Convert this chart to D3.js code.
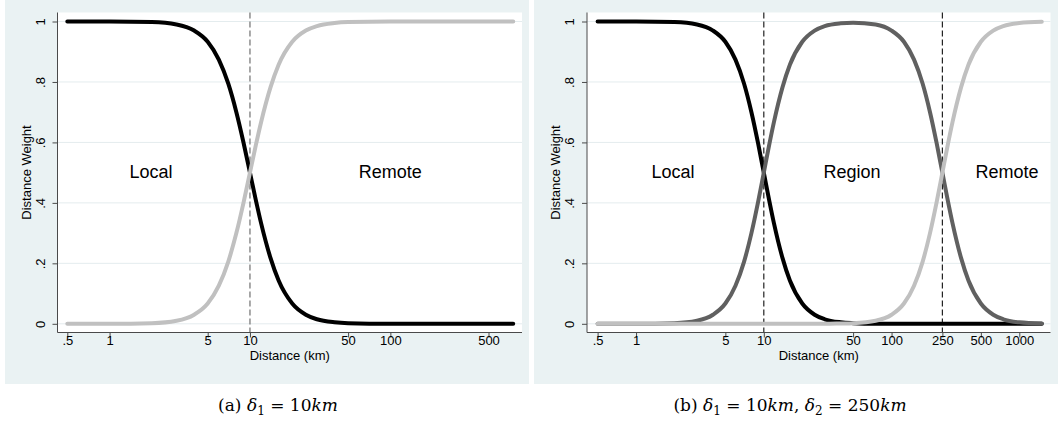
<!DOCTYPE html>
<html>
<head>
<meta charset="utf-8">
<script src="https://cdn.jsdelivr.net/npm/d3@7"></script>
<style>
  body { margin: 0; background: #fff; }
  text { font-family: "Liberation Sans", Arial, sans-serif; }
  .cap { font-family: "DejaVu Serif", "Liberation Serif", serif; }
</style>
</head>
<body>
<svg id="chart" width="1058" height="424"></svg>
<script>
// ---- data ----
const yTicks = [0, 0.2, 0.4, 0.6, 0.8, 1];
const yTickLabels = ["0", ".2", ".4", ".6", ".8", "1"];

const xTicksA = [0.5, 1, 5, 10, 50, 100, 500];
const xTickLabelsA = [".5", "1", "5", "10", "50", "100", "500"];
const xTicksB = [0.5, 1, 5, 10, 50, 100, 250, 500, 1000];
const xTickLabelsB = [".5", "1", "5", "10", "50", "100", "250", "500", "1000"];

// panel (a): one cut-off at 10 km
const distA   = [0.5, 1, 2, 3, 4, 5, 6, 7, 8, 9, 10, 11, 12, 14, 16, 20, 25, 30, 40, 50, 100, 200, 500, 750];
const localA  = [1.000, 1.000, 0.998, 0.990, 0.970, 0.933, 0.874, 0.795, 0.700, 0.599, 0.500, 0.410, 0.333, 0.218, 0.143, 0.067, 0.030, 0.015, 0.005, 0.002, 0.000, 0.000, 0.000, 0.000];
const remoteA = [0.000, 0.000, 0.002, 0.010, 0.030, 0.067, 0.126, 0.205, 0.300, 0.401, 0.500, 0.590, 0.667, 0.782, 0.857, 0.933, 0.970, 0.985, 0.995, 0.998, 1.000, 1.000, 1.000, 1.000];
const cutsA = [10];
const zoneLabelsA = ["Local", "Remote"];
const zoneDistA = [1.97, 100];

// panel (b): cut-offs at 10 km and 250 km
const distB   = [0.5, 1, 2, 3, 4, 5, 6, 7, 8, 9, 10, 11, 12, 14, 16, 20, 25, 30, 40, 50, 75, 100, 125, 150, 175, 200, 225, 250, 275, 300, 350, 400, 500, 625, 750, 1000, 1500];
const localB  = [1.000, 1.000, 0.998, 0.990, 0.970, 0.933, 0.874, 0.795, 0.700, 0.599, 0.500, 0.410, 0.333, 0.218, 0.143, 0.067, 0.030, 0.015, 0.005, 0.002, 0, 0, 0, 0, 0, 0, 0, 0, 0, 0, 0, 0, 0, 0, 0, 0, 0];
const regionB = [0.000, 0.000, 0.002, 0.010, 0.030, 0.067, 0.126, 0.205, 0.300, 0.401, 0.500, 0.590, 0.667, 0.782, 0.857, 0.933, 0.970, 0.985, 0.994, 0.996, 0.990, 0.970, 0.933, 0.874, 0.795, 0.700, 0.599, 0.500, 0.410, 0.333, 0.218, 0.143, 0.067, 0.030, 0.015, 0.005, 0.001];
const remoteB = [0, 0, 0, 0, 0, 0, 0, 0, 0, 0, 0, 0, 0, 0, 0, 0, 0, 0.000, 0.001, 0.002, 0.010, 0.030, 0.067, 0.126, 0.205, 0.300, 0.401, 0.500, 0.590, 0.667, 0.782, 0.857, 0.933, 0.970, 0.985, 0.995, 0.999];
const cutsB = [10, 250];
const zoneLabelsB = ["Local", "Region", "Remote"];
const zoneDistB = [1.95, 49, 800];

// ---- styling ----
const bgColor = "#eaf2f3";
const gridColor = "#e4ecee";
const axisColor = "#4a4a4a";

const svg = d3.select("#chart");

function drawPanel(cfg) {
	var x = d3.scaleLog().domain(cfg.xDomain).range(cfg.xRange);
	var y = d3.scaleLinear().domain([0, 1]).range([323.8, 21.5]);
	var top = 12.5, bottom = 332.5;

	// graph region background
	svg.append("rect")
		.attr("x", cfg.bg[0]).attr("y", 0)
		.attr("width", cfg.bg[1] - cfg.bg[0]).attr("height", 384)
		.attr("fill", bgColor);

	// plot region
	svg.append("rect")
		.attr("x", cfg.left).attr("y", top)
		.attr("width", cfg.right - cfg.left).attr("height", bottom - top)
		.attr("fill", "#fff");

	var g = svg.append("g");

	// horizontal grid
	g.selectAll(".grid").data(yTicks).enter().append("line")
		.attr("x1", cfg.left).attr("x2", cfg.right)
		.attr("y1", d => y(d)).attr("y2", d => y(d))
		.attr("stroke", gridColor).attr("stroke-width", 1);

	// vertical cut-off lines
	g.selectAll(".cut").data(cfg.cuts).enter().append("line")
		.attr("x1", d => x(d)).attr("x2", d => x(d))
		.attr("y1", top).attr("y2", bottom)
		.attr("stroke", cfg.cutColor).attr("stroke-width", 1.2)
		.attr("stroke-dasharray", "6,3");

	// weight curves
	var line = d3.line()
		.x(d => x(d[0])).y(d => y(d[1]))
		.curve(d3.curveMonotoneX);
	cfg.series.forEach(s => {
		g.append("path")
			.datum(cfg.dist.map((d, i) => [d, s.values[i]]))
			.attr("fill", "none")
			.attr("stroke", s.color)
			.attr("stroke-width", 4)
			.attr("stroke-linecap", "round")
			.attr("stroke-linejoin", "round")
			.attr("d", line);
	});

	// zone labels
	g.selectAll(".zone").data(cfg.zones).enter().append("text")
		.attr("x", (d, i) => x(cfg.zoneDist[i]))
		.attr("y", 178)
		.attr("text-anchor", "middle")
		.attr("font-size", 18)
		.attr("fill", "#000")
		.text(d => d);

	// axis lines
	g.append("line")
		.attr("x1", cfg.left).attr("x2", cfg.left)
		.attr("y1", top).attr("y2", bottom)
		.attr("stroke", axisColor);
	g.append("line")
		.attr("x1", cfg.left).attr("x2", cfg.right)
		.attr("y1", bottom).attr("y2", bottom)
		.attr("stroke", axisColor);

	// y axis
	var yAxis = g.append("g")
		.attr("transform", "translate(" + cfg.left + ",0)")
		.call(d3.axisLeft(y).tickValues(yTicks)
			.tickFormat((d, i) => yTickLabels[i]).tickSize(5).tickSizeOuter(0));
	yAxis.select(".domain").remove();
	yAxis.selectAll(".tick line").attr("stroke", axisColor);
	yAxis.selectAll(".tick text")
		.attr("font-size", 13).attr("font-family", "Liberation Sans, Arial, sans-serif")
		.attr("fill", "#000")
		.attr("text-anchor", "middle")
		.attr("x", 0).attr("y", -13).attr("dy", 0)
		.attr("transform", "rotate(-90)");

	// x axis
	var xAxis = g.append("g")
		.attr("transform", "translate(0," + bottom + ")")
		.call(d3.axisBottom(x).tickValues(cfg.xTicks)
			.tickFormat((d, i) => cfg.xTickLabels[i]).tickSize(5).tickSizeOuter(0));
	xAxis.select(".domain").remove();
	xAxis.selectAll(".tick line").attr("stroke", axisColor);
	xAxis.selectAll(".tick text")
		.attr("font-size", 13).attr("font-family", "Liberation Sans, Arial, sans-serif")
		.attr("fill", "#000")
		.attr("y", 3).attr("dy", "0.71em");

	// axis titles
	g.append("text")
		.attr("x", (cfg.left + cfg.right) / 2).attr("y", 360)
		.attr("text-anchor", "middle").attr("font-size", 13)
		.text("Distance (km)");
	g.append("text")
		.attr("transform", "translate(" + (cfg.left - 27) + "," + ((top + bottom) / 2) + ") rotate(-90)")
		.attr("text-anchor", "middle").attr("font-size", 13)
		.text("Distance Weight");

	// caption below the panel
	var cap = svg.append("text").attr("class", "cap")
		.attr("x", cfg.capX).attr("y", 411)
		.attr("text-anchor", "middle").attr("font-size", 17);
	cfg.caption.forEach(part => {
		var t = cap.append("tspan").text(part.t);
		if (part.it) t.attr("font-style", "italic");
		if (part.sub) t.attr("font-size", 12).attr("dy", 4);
		if (part.up) t.attr("dy", -4);
	});
}

drawPanel({
	bg: [5, 529], left: 57.5, right: 522,
	xDomain: [0.5, 500], xRange: [67.3, 488.5],
	xTicks: xTicksA, xTickLabels: xTickLabelsA,
	dist: distA,
	series: [
		{ values: localA, color: "#000000" },
		{ values: remoteA, color: "#c0c0c0" }
	],
	cuts: cutsA, cutColor: "#707070",
	zones: zoneLabelsA, zoneDist: zoneDistA,
	capX: 278,
	caption: [
		{ t: "(a) " }, { t: "δ", it: true }, { t: "1", sub: true },
		{ t: " = 10", up: true }, { t: "km", it: true }
	]
});

drawPanel({
	bg: [534, 1058], left: 587, right: 1050.5,
	xDomain: [0.5, 1000], xRange: [597.6, 1019.3],
	xTicks: xTicksB, xTickLabels: xTickLabelsB,
	dist: distB,
	series: [
		{ values: localB, color: "#000000" },
		{ values: regionB, color: "#606060" },
		{ values: remoteB, color: "#c0c0c0" }
	],
	cuts: cutsB, cutColor: "#222222",
	zones: zoneLabelsB, zoneDist: zoneDistB,
	capX: 790,
	caption: [
		{ t: "(b) " }, { t: "δ", it: true }, { t: "1", sub: true },
		{ t: " = 10", up: true }, { t: "km", it: true }, { t: ",  " },
		{ t: "δ", it: true }, { t: "2", sub: true },
		{ t: " = 250", up: true }, { t: "km", it: true }
	]
});
</script>
</body>
</html>
